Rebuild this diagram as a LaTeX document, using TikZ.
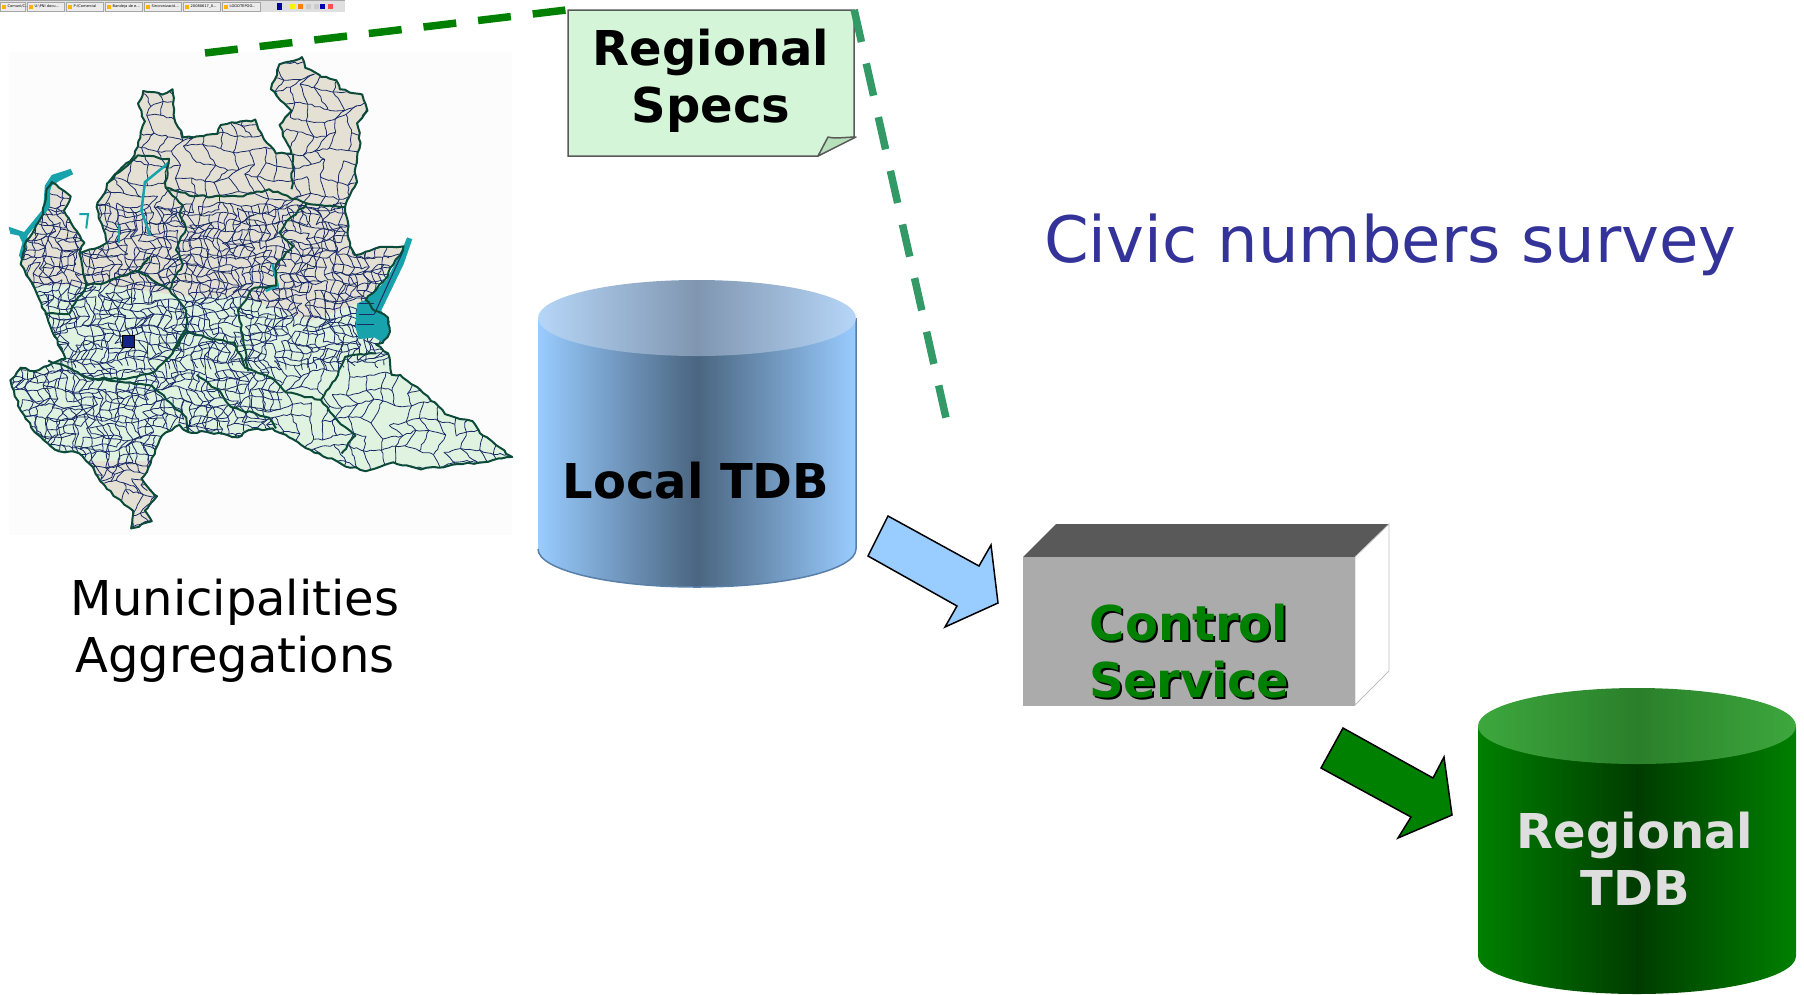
\documentclass[tikz,border=0pt]{standalone}
\usepackage{fontspec}
\setmainfont{DejaVu Sans}
\usetikzlibrary{calc, decorations.pathmorphing}
\definecolor{specfill}{HTML}{D4F5D8}
\definecolor{specfold}{HTML}{B5E0BA}
\definecolor{dashone}{HTML}{008000}
\definecolor{dashtwo}{HTML}{339966}
\definecolor{surveyblue}{HTML}{333399}
\definecolor{arrowblue}{HTML}{99CCFF}
\definecolor{boxfront}{HTML}{ABABAB}
\definecolor{boxtop}{HTML}{595959}
\definecolor{plainfill}{HTML}{E0F3E0}
\definecolor{hillfill}{HTML}{E4E0D4}
\definecolor{cityline}{HTML}{1A2C66}
\definecolor{provline}{HTML}{0C4A3A}
\definecolor{lake}{HTML}{17A2AC}
\definecolor{localside}{HTML}{4A6580}
\definecolor{localtop}{HTML}{8096B0}
\definecolor{localedge}{HTML}{B6D6F8}
\definecolor{localrim}{HTML}{5A7FA8}
\definecolor{regionside}{HTML}{003C00}
\definecolor{regiontop}{HTML}{2A7F2A}
\definecolor{regionedge}{HTML}{3DA83D}
\newcommand{\tabdots}{...}
% spacing, columns, rows of a mesh of municipalities
\newcommand{\citymesh}[5]{
    \foreach \i in {#2,...,#3}{
        \foreach \j in {#4,...,#5}{
            \pgfmathtruncatemacro{\keepa}{sin(71*\i+47*\j)>-0.85}
            \pgfmathtruncatemacro{\keepb}{cos(43*\i+97*\j)>-0.85}
            \coordinate (cella) at ({#1*posx(\i,\j)},{#1*posy(\i,\j)});
            \ifnum\keepa=1
                \draw[city] (cella) -- ({#1*posx(\i+1,\j)},{#1*posy(\i+1,\j)});
            \fi
            \ifnum\keepb=1
                \draw[city] (cella) -- ({#1*posx(\i,\j+1)},{#1*posy(\i,\j+1)});
            \fi
        }
    }
}
\pgfmathsetseed{7}
\begin{document}
\begin{tikzpicture}[x=1pt,y=-1pt]
\tikzset{
    bigbold/.style={
        font=\fontsize{48}{57}\selectfont\bfseries,
        align=center,
        inner sep=0pt,
    },
    bigplain/.style={
        font=\fontsize{48}{57}\selectfont,
        align=center,
        inner sep=0pt,
    },
    dashlink/.style={
        line width=7.5pt,
        dash pattern=on 33pt off 22pt,
    },
    blockarrow/.style={
        draw=black,
        line width=1.5pt,
        line join=miter,
    },
    city/.style={
        draw=cityline,
        line width=.8pt,
        decorate,
        decoration={random steps,segment length=4pt,amplitude=1.1pt},
    },
    province/.style={
        draw=provline,
        line width=2pt,
        line join=round,
        decorate,
        decoration={random steps,segment length=5pt,amplitude=1.2pt},
    },
    tab/.style={
        draw=gray!70,
        fill=gray!15,
        line width=.3pt,
    },
    tabtext/.style={
        font=\fontsize{3.6}{4}\selectfont,
        inner sep=0pt,
        anchor=west,
    },
    declare function={
        posx(\a,\b)=\a+.5*mod(\b,2)+.25*sin(37*\a+91*\b)+.15*sin(113*\a+59*\b);
        posy(\a,\b)=\b+.25*cos(79*\a+53*\b)+.15*cos(23*\a+131*\b);
    },
}
    \useasboundingbox (0,0) rectangle (1804,994);

    % screenshot strip on top
    \fill[gray!25] (0,0) rectangle (345,12);
    \fill[gray!70] (0,0) rectangle (345,1);
    \foreach \xa/\xb/\tabname in {0/25/{Comuni/C\tabdots},27/64/{U:\textbackslash PNI docu\tabdots},66/103/{P:\textbackslash Comercial},105/142/{Bandeja de e\tabdots},144/181/{Sincronizació\tabdots},183/220/{20080617\_0\tabdots},222/260/{LOGOTEPOO\tabdots}}{
        \draw[tab] (\xa,2) rectangle (\xb,11);
        \fill[orange!60!yellow] (\xa+2,4.5) rectangle (\xa+6,8.5);
        \node[tabtext] (tab\xa) at (\xa+7.5,6.5) {\tabname};
    }
    \fill[blue!60!black] (277,3) rectangle (282,10);
    \foreach \xa/\tcol in {290/yellow,298/orange,306/gray!40,314/gray!40,320/blue!70!black,328/red!70}{
        \fill[\tcol] (\xa,4) rectangle (\xa+5,9);
    }

    % map of the region
    \fill[black!1] (9,52) rectangle (512,535);
    \begin{scope}[x=.345pt,y=-.357pt]
        \def\regionoutline{(875,160) -- (885,190) -- (930,215) -- (975,225) -- (985,250) -- (1050,265) -- (1065,310) -- (1035,345) -- (1045,400) -- (1030,470) -- (1035,510) -- (1000,580) -- (1015,690) -- (1030,715) -- (1090,695) -- (1170,690) -- (1110,790) -- (1060,840) -- (1085,870) -- (1125,890) -- (1130,930) -- (1110,960) -- (1090,965) -- (1125,990) -- (1135,1050) -- (1160,1050) -- (1240,1110) -- (1290,1160) -- (1370,1180) -- (1400,1220) -- (1485,1280) -- (1400,1295) -- (1340,1300) -- (1220,1315) -- (1140,1295) -- (1060,1320) -- (990,1300) -- (900,1260) -- (790,1200) -- (720,1205) -- (690,1225) -- (600,1210) -- (545,1210) -- (520,1190) -- (470,1220) -- (450,1260) -- (430,1310) -- (410,1340) -- (455,1390) -- (420,1430) -- (440,1460) -- (380,1480) -- (385,1430) -- (310,1370) -- (260,1300) -- (230,1270) -- (160,1260) -- (100,1210) -- (60,1150) -- (30,1065) -- (60,1030) -- (100,1040) -- (190,1005) -- (140,900) -- (110,830) -- (60,740) -- (70,690) -- (125,600) -- (135,530) -- (150,510) -- (205,550) -- (185,590) -- (245,680) -- (230,710) -- (280,695) -- (310,680) -- (280,580) -- (315,510) -- (390,435) -- (400,410) -- (420,340) -- (400,290) -- (415,255) -- (470,265) -- (500,250) -- (505,330) -- (530,385) -- (630,375) -- (640,350) -- (740,335) -- (765,390) -- (800,430) -- (845,430) -- (810,350) -- (845,310) -- (785,250) -- (810,180) -- cycle}
        \fill[plainfill] \regionoutline;
        \begin{scope}
            \clip \regionoutline;
            \fill[hillfill] (0,0) -- (1500,0) -- (1170,690) -- (1060,840) -- (900,900) -- (700,830) -- (540,830) -- (300,800) -- (100,800) -- (0,800) -- cycle;
            \fill[hillfill] (250,1290) rectangle (480,1500);
            % municipalities
            \citymesh{42}{0}{36}{3}{36}
            \citymesh{24}{3}{46}{24}{42}
            \citymesh{26}{0}{30}{40}{52}
        \end{scope}
        % lakes
        \fill[lake] (25,635) -- (70,650) -- (125,585) -- (130,520) -- (150,490) -- (205,473) -- (212,488) -- (175,505) -- (150,520) -- (145,535) -- (145,580) -- (80,660) -- (75,700) -- (60,725) -- (55,715) -- (65,680) -- (55,660) -- (30,655) -- cycle;
        \fill[lake] (1180,665) -- (1195,670) -- (1170,740) -- (1105,870) -- (1130,900) -- (1125,940) -- (1110,960) -- (1085,945) -- (1040,950) -- (1030,915) -- (1035,850) -- (1060,840) -- (1120,785) -- (1165,700) -- cycle;
        \draw[lake,line width=2.5pt] (490,455) -- (420,510) -- (410,590) -- (435,660);
        \draw[lake,line width=2pt] (230,600) -- (255,600) -- (250,640);
        \draw[lake,line width=2pt] (345,630) -- (345,680);
        \draw[lake,line width=2.5pt] (790,740) -- (805,800) -- (770,815);
        \draw[cityline,line width=1pt] (1170,700) -- (1085,880);
        \draw[cityline,line width=1pt] (1040,850) -- (1085,850) (1040,880) -- (1085,880) (1035,910) -- (1085,910);
        % provinces
        \draw[province] \regionoutline;
        \draw[province] (315,510) -- (400,435) -- (490,445) -- (480,525) -- (530,575) -- (520,600) -- (540,640) -- (510,700) -- (530,740) -- (490,810) -- (540,870) -- (540,920) -- (500,990);
        \draw[province] (480,525) -- (560,550) -- (690,550) -- (780,530) -- (890,570) -- (830,620) -- (810,650) -- (850,690) -- (800,740) -- (800,800) -- (730,810) -- (690,870) -- (720,1040);
        \draw[province] (230,710) -- (250,800) -- (200,880) -- (130,880);
        \draw[province] (250,800) -- (310,790) -- (400,760) -- (430,720) (400,760) -- (490,810);
        \draw[province] (140,1010) -- (200,1030) -- (260,1060) -- (370,1060) -- (450,1040) -- (500,990) -- (540,930) -- (620,950) -- (680,960) -- (710,1030) -- (790,1060) -- (830,1100) -- (930,1120) -- (980,1050) -- (1000,1000) -- (1090,990);
        \draw[province] (930,1120) -- (980,1180) -- (1030,1220) -- (990,1270);
        \draw[province] (570,1050) -- (640,1100) -- (670,1140) -- (780,1170) -- (800,1200);
        \draw[province] (260,1060) -- (440,1080) -- (540,1170) -- (545,1210);
        \draw[province] (850,430) -- (845,530) (1000,580) -- (890,570);
        \draw[draw=black,fill=cityline!80!blue,line width=.7pt] (355,940) rectangle (388,972);
    \end{scope}
    \node[bigplain] (aggregations) at (235,631) {Municipalities\\Aggregations};

    % regional specs sheet
    \draw[draw=black!65,fill=specfill,line width=1.5pt] (568,10) -- (854,10) -- (854,137) -- (818,156) -- (568,156) -- cycle;
    \draw[draw=black!65,fill=specfold,line width=1.5pt,line join=round] (818,156) -- (828,137) .. controls (834,139) and (848,137) .. (856,137) -- cycle;
    \node[minimum width=286pt,minimum height=146pt,inner sep=0pt] (specsheet) at (711,83) {};
    \node[bigbold] (specs) at (711,81) {Regional\\Specs};
    \coordinate (mapcorner) at (205,53);
    \coordinate (surveyend) at (946,418);
    \draw[dashlink,draw=dashone] (mapcorner) -- (specsheet.north west);
    \draw[dashlink,draw=dashtwo] (specsheet.north east) -- (surveyend);

    % local cylinder
    \shade[left color=arrowblue,right color=arrowblue,middle color=localside] (538,318) -- (538,549) arc [start angle=180, end angle=360, x radius=159pt, y radius=38pt] -- (856,318) -- cycle;
    \draw[draw=localrim,line width=1.5pt] (538,549) arc [start angle=180, end angle=360, x radius=159pt, y radius=38pt] -- (856,318);
    \shade[left color=localedge,right color=localedge,middle color=localtop] (697,318) ellipse [x radius=159pt, y radius=38pt];
    \node[bigbold] (localtdb) at (696,481) {Local TDB};

    % control box
    \fill[boxtop] (1023,557) -- (1056,524) -- (1389,524) -- (1355,557) -- cycle;
    \draw[draw=black!25,fill=white,line width=.8pt] (1355,557) -- (1389,524) -- (1389,671) -- (1355,705) -- cycle;
    \fill[boxfront] (1023,557) rectangle (1355,706);
    \node[bigbold,text=black] (controlshadow) at (1191,653) {Control\\Service};
    \node[bigbold,text=green!50!black] (control) at (1189,651) {Control\\Service};

    % block arrows
    \draw[blockarrow,fill=arrowblue] (888,516) -- (979,566) -- (991,545) -- (998,603) -- (945,627) -- (957,606) -- (868,556) -- cycle;
    \draw[blockarrow,fill=dashone] (1343,728) -- (1433,778) -- (1444,757) -- (1452,815) -- (1398,838) -- (1411,817) -- (1321,768) -- cycle;

    % regional cylinder
    \shade[left color=dashone,right color=dashone,middle color=regionside] (1478,727) -- (1478,956) arc [start angle=180, end angle=360, x radius=159pt, y radius=38pt] -- (1796,727) -- cycle;
    \shade[left color=regionedge,right color=regionedge,middle color=regiontop] (1637,726) ellipse [x radius=159pt, y radius=38pt];
    \node[bigbold,text=black!13] (regionaltdb) at (1635,859) {Regional\\TDB};

    % title
    \node[font=\fontsize{64}{70}\selectfont,text=surveyblue,inner sep=0pt,anchor=base west] (survey) at (1044,262) {Civic numbers survey};
\end{tikzpicture}
\end{document}
